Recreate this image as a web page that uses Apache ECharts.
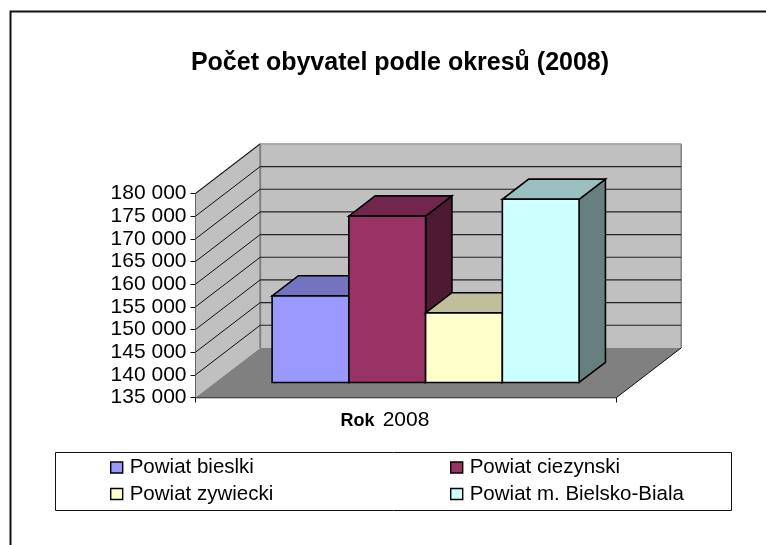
<!DOCTYPE html>
<html><head><meta charset="utf-8">
<style>html,body{margin:0;padding:0;background:#fff}#c{width:766px;height:545px}</style>
<script src="https://cdn.jsdelivr.net/npm/echarts@6/dist/echarts.min.js"></script>
</head><body><div id="c"></div>
<script>
var titleText = 'Počet obyvatel podle okresů (2008)';
var categories = ['2008'];
var xAxisTitle = 'Rok';
var seriesNames = ['Powiat bieslki', 'Powiat ciezynski', 'Powiat zywiecki', 'Powiat m. Bielsko-Biala'];
var seriesValues = [154100, 171700, 150350, 175400];
var yTicks = [135000, 140000, 145000, 150000, 155000, 160000, 165000, 170000, 175000, 180000];
var frontColors = ['#9999FF', '#993366', '#FFFFCC', '#CCFFFF'];
var topColors = ['#7373BF', '#73264D', '#BFBF99', '#99BFBF'];
var sideColors = ['#4D4D80', '#4D1A33', '#808066', '#668080'];

var FONT = '"Liberation Sans", Arial, sans-serif';
var WALL = {dx: 64.7, dy: -49.6};      // depth of the 3D box in px
var NEAR = 0.303, FAR = 0.71;          // bar depth range, share of the box depth
var BAR_SHARE = 0.1823;                // bar width, share of the category band

function line(a, b, color, w) {
  return {type: 'line', shape: {x1: a[0], y1: a[1], x2: b[0], y2: b[1]},
    style: {stroke: color, lineWidth: w}, silent: true};
}
function poly(points, fill, stroke, w) {
  return {type: 'polygon', shape: {points: points},
    style: {fill: fill, stroke: stroke || null, lineWidth: w || 0, lineJoin: 'miter'}, silent: true};
}
function back(p) { return [p[0] + WALL.dx, p[1] + WALL.dy]; }

function renderWalls(params, api) {
  var kids = [];
  var v = api.value(1);
  var band = api.size([1, 0])[0];
  var cx = api.coord([0, v])[0];
  var x0 = cx - band / 2, x1 = cx + band / 2;
  if (params.dataIndex === 0) {
    var yb = api.coord([0, yTicks[0]])[1];
    var yt = api.coord([0, yTicks[yTicks.length - 1]])[1];
    var fl = [x0, yb], fr = [x1, yb], tl = [x0, yt];
    kids.push(poly([back(fl), back(fr), back([x1, yt]), back(tl)], '#C0C0C0'));
    kids.push(poly([fl, back(fl), back(tl), tl], '#C0C0C0'));
    kids.push(poly([fl, fr, back(fr), back(fl)], '#808080'));
    return {type: 'group', children: kids.concat([
      line(tl, back(tl), '#808080', 1.5),
      line(back(tl), back([x1, yt]), '#A6A6A6', 1.5),
      line(back(tl), back(fl), '#808080', 2),
      line(back([x1, yt]), back(fr), '#808080', 1.5),
      line(fr, back(fr), '#111', 1)
    ])};
  }
  var y = api.coord([0, v])[1];
  kids.push(line([x0, y], back([x0, y]), '#111', 1));
  kids.push(line(back([x0, y]), back([x1, y]), params.dataIndex === yTicks.length - 1 ? '#A6A6A6' : '#222', 1.2));
  return {type: 'group', children: kids};
}

function renderBar(i) {
  return function (params, api) {
    var band = api.size([1, 0])[0];
    var top = api.coord([0, api.value(1)]);
    var base = api.coord([0, yTicks[0]]);
    var w = band * BAR_SHARE;
    var left = top[0] - 2 * w + i * w;
    function at(x, y, t) { return [x + WALL.dx * t, y + WALL.dy * t]; }
    var a = at(left, base[1], NEAR), b = at(left + w, base[1], NEAR);
    var c = at(left + w, top[1], NEAR), d = at(left, top[1], NEAR);
    var e = at(left + w, top[1], FAR), f = at(left, top[1], FAR);
    var g = at(left + w, base[1], FAR);
    return {type: 'group', children: [
      poly([b, g, e, c], sideColors[i], '#000', 1.6),
      poly([d, c, e, f], topColors[i], '#000', 1.6),
      poly([a, b, c, d], frontColors[i], '#000', 1.6)
    ]};
  };
}

var series = [{
  type: 'custom', name: 'walls', silent: true, z: 1,
  renderItem: renderWalls, encode: {x: 0, y: 1},
  data: yTicks.map(function (t) { return [0, t]; })
}];
seriesNames.forEach(function (n, i) {
  series.push({
    type: 'custom', name: n, z: 2 + i, silent: true,
    renderItem: renderBar(i), encode: {x: 0, y: 1},
    itemStyle: {color: frontColors[i]},
    data: [[0, seriesValues[i]]]
  });
});

function legendAt(left, names) {
  return {
    orient: 'vertical', left: left, top: 457, padding: 0, itemGap: 5.5,
    itemWidth: 12, itemHeight: 11, icon: 'rect', selectedMode: false,
    itemStyle: {borderColor: '#000', borderWidth: 1.4},
    textStyle: {fontFamily: FONT, fontSize: 20.5, color: '#000', padding: [0, 0, 0, 2]},
    data: names
  };
}

var chart = echarts.init(document.getElementById('c'), null, {renderer: 'canvas'});
chart.setOption({
  animation: false,
  backgroundColor: '#fff',
  title: {
    text: titleText, left: 400, top: 51, textAlign: 'center', padding: 0,
    textStyle: {fontFamily: FONT, fontSize: 25, fontWeight: 'bold', color: '#000'}
  },
  tooltip: {show: false},
  grid: {left: 195.5, top: 193.5, width: 421, height: 204, containLabel: false},
  xAxis: {
    type: 'category', data: categories,
    name: xAxisTitle, nameLocation: 'middle', nameGap: 15, nameMoveOverlap: false,
    nameTextStyle: {fontFamily: FONT, fontSize: 18, fontWeight: 'bold', color: '#000', padding: [0, 97, 0, 0]},
    axisLine: {show: true, onZero: false, lineStyle: {color: '#111', width: 1.3}},
    axisTick: {show: true, length: 5, alignWithLabel: false, lineStyle: {color: '#111'}},
    axisLabel: {fontFamily: FONT, fontSize: 21, color: '#000', margin: 12},
    splitLine: {show: false}
  },
  yAxis: {
    type: 'value', min: yTicks[0], max: yTicks[yTicks.length - 1], interval: 5000,
    axisLine: {show: true, lineStyle: {color: '#111', width: 1}},
    axisTick: {show: true, length: 5, lineStyle: {color: '#111'}},
    axisLabel: {
      fontFamily: FONT, fontSize: 21, color: '#000', margin: 9,
      formatter: function (v) { return String(v).replace(/\B(?=(\d{3})+$)/g, ' '); }
    },
    splitLine: {show: false}
  },
  legend: [
    legendAt(110, [seriesNames[0], seriesNames[2]]),
    legendAt(450, [seriesNames[1], seriesNames[3]])
  ],
  graphic: [
    {type: 'polyline', silent: true, z: 0, shape: {points: [[10.5, 545], [10.5, 11.5], [766, 11.5]]},
      style: {stroke: '#111', lineWidth: 2, fill: null}},
    {type: 'rect', silent: true, z: 0, shape: {x: 55.5, y: 452.5, width: 676, height: 58},
      style: {stroke: '#111', lineWidth: 1, fill: '#fff'}}
  ],
  series: series
});
</script></body></html>
